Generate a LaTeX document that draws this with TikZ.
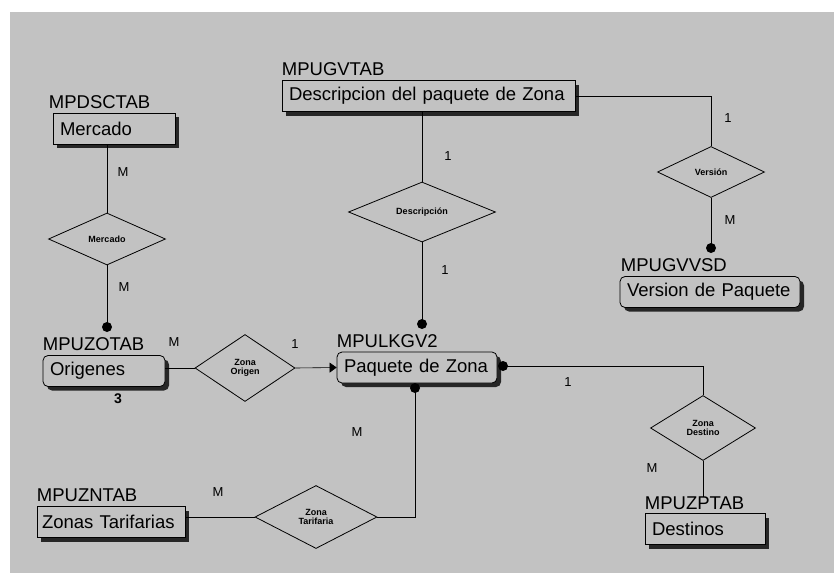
\documentclass[tikz,border=0pt]{standalone}
\usepackage{fontspec}
\setmainfont{Liberation Sans}
\usepackage{tikz}
\usetikzlibrary{shapes.geometric,shadows,positioning,arrows.meta}

\colorlet{fondo}{black!24}

\begin{document}
\begin{tikzpicture}[x=1pt,y=-1pt,semithick]
      \tikzstyle{every node}=[inner sep=0pt]
      \tikzstyle{tabla}=[draw, thick, fill=fondo, minimum height=31pt,
        inner xsep=7pt, align=left, font=\fontsize{18.5}{20}\selectfont,
        drop shadow={shadow xshift=4pt, shadow yshift=-4pt,
          fill=black!85, opacity=1}]
      \tikzstyle{vista}=[tabla, rounded corners=5pt]
      \tikzstyle{nombre}=[font=\fontsize{18.5}{20}\selectfont]
      \tikzstyle{relacion}=[diamond, draw, thick, align=center,
        font=\fontsize{9}{9.5}\selectfont\bfseries]
      \tikzstyle{card}=[font=\fontsize{13}{13}\selectfont]
      \def \punto {5pt}
      % fondo
      \useasboundingbox (0,0) rectangle (834,573);
      \fill[fondo] (10,12) rectangle (834,573);
      % tablas
      \node[tabla, text width=108pt] (merc) at (114,128.5) {Mercado};
      \node[tabla, text width=279pt] (desc) at (428.5,96) {Descripcion del paquete de Zona};
      \node[vista, text width=166pt] (vers) at (710,292) {Version de Paquete};
      \node[vista, text width=108pt] (orig) at (104,371) {Origenes};
      \node[vista, text width=146pt] (paq) at (417,367.5) {Paquete de Zona};
      \node[tabla, text width=138pt, inner xsep=5pt] (zonas) at (111,522) {Zonas Tarifarias};
      \node[tabla, text width=106pt] (dest) at (705,529) {Destinos};
      \node[nombre, above right=4pt and -4pt of merc.north west] (merc-n) {MPDSCTAB};
      \node[nombre, above right=4pt and 0pt of desc.north west] (desc-n) {MPUGVTAB};
      \node[nombre, above right=4pt and 1pt of vers.north west] (vers-n) {MPUGVVSD};
      \node[nombre, above right=4pt and 0pt of orig.north west] (orig-n) {MPUZOTAB};
      \node[nombre, above right=4pt and 0pt of paq.north west] (paq-n) {MPULKGV2};
      \node[nombre, above right=4pt and 0pt of zonas.north west] (zonas-n) {MPUZNTAB};
      \node[nombre, above right=3pt and 0pt of dest.north west] (dest-n) {MPUZPTAB};
      % relaciones
      \node[relacion, minimum width=117pt, minimum height=52pt] (r-merc) at (107,239) {Mercado};
      \node[relacion, minimum width=147pt, minimum height=55pt] (r-desc) at (422,212) {Descripción};
      \node[relacion, minimum width=107pt, minimum height=51pt] (r-vers) at (711,172) {Versión};
      \node[relacion, minimum width=100pt, minimum height=67pt] (r-orig) at (245,368) {Zona\\Origen};
      \node[relacion, minimum width=105pt, minimum height=65pt] (r-dest) at (703,428) {Zona\\Destino};
      \node[relacion, minimum width=122pt, minimum height=63pt] (r-tar) at (316,517) {Zona\\Tarifaria};
      % puntos
      \coordinate (p-orig) at (107,327);
      \coordinate (p-paq) at (422,324);
      \coordinate (p-vers) at (711,248);
      \coordinate (p-este) at (503,366);
      \coordinate (p-sur) at (415,388);
      \foreach \p in {p-orig,p-paq,p-vers,p-este,p-sur}
        \fill (\p) circle (\punto);
      % conectores
      \draw (merc.south -| r-merc.north) -- (r-merc.north);
      \draw (r-merc.south) -- (p-orig);
      \draw (desc.south -| r-desc.north) -- (r-desc.north);
      \draw (r-desc.south) -- (p-paq);
      \draw (desc.east) -| (r-vers.north);
      \draw (r-vers.south) -- (p-vers);
      \draw (r-orig.west -| orig.east) -- (r-orig.west);
      \draw[-{Triangle[length=7pt,width=10pt]}] (r-orig.east) -- (paq.west);
      \draw (p-este) -| (r-dest.north);
      \draw (r-dest.south) -- (r-dest.south |- dest-n.north);
      \draw (p-sur) |- (r-tar.east);
      \draw (r-tar.west) -- (r-tar.west -| zonas.east);
      % cardinalidad
      \node[card] (c1) at (123,172) {M};
      \node[card] (c2) at (124,287) {M};
      \node[card] (c3) at (448,156) {1};
      \node[card] (c4) at (445,270) {1};
      \node[card] (c5) at (728,118) {1};
      \node[card] (c6) at (730,220) {M};
      \node[card] (c7) at (174,342) {M};
      \node[card] (c8) at (295,344) {1};
      \node[card] (c9) at (568,382) {1};
      \node[card] (c10) at (652,468) {M};
      \node[card] (c11) at (357,432) {M};
      \node[card] (c12) at (218,492) {M};
      \node[card, font=\fontsize{14}{14}\selectfont\bfseries] (tres) at (118,399) {3};
\end{tikzpicture}
\end{document}
